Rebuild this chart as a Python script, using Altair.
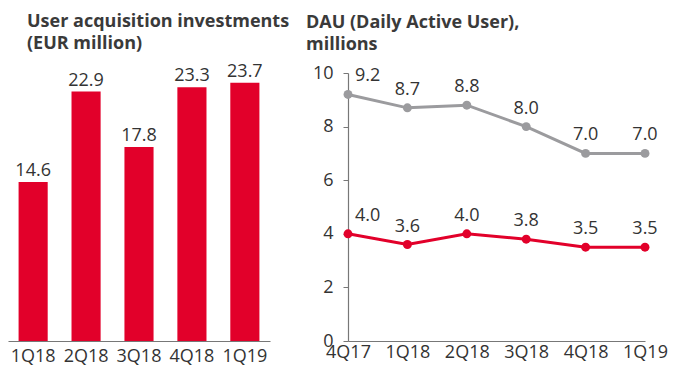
import altair as alt
import pandas as pd

# ---- data ----
bar_quarters = ["1Q18", "2Q18", "3Q18", "4Q18", "1Q19"]
ua_investments = [14.6, 22.9, 17.8, 23.3, 23.7]

dau_quarters = ["4Q17", "1Q18", "2Q18", "3Q18", "4Q18", "1Q19"]
dau_upper = [9.2, 8.7, 8.8, 8.0, 7.0, 7.0]
dau_lower = [4.0, 3.6, 4.0, 3.8, 3.5, 3.5]

RED = "#e2002a"
GRAY = "#9b9b9e"
TEXT = "#333333"
FONT = "Open Sans"

bar_df = pd.DataFrame({"quarter": bar_quarters, "value": ua_investments})
line_df = pd.concat([
    pd.DataFrame({"quarter": dau_quarters, "value": dau_upper, "series": "upper"}),
    pd.DataFrame({"quarter": dau_quarters, "value": dau_lower, "series": "lower"}),
], ignore_index=True)
line_df["label"] = line_df["value"].map(lambda v: f"{v:.1f}")
bar_df["label"] = bar_df["value"].map(lambda v: f"{v:.1f}")

PLOT_H = 268

# ---- left: bars ----
xb = alt.X("quarter:N", sort=bar_quarters,
           scale=alt.Scale(paddingInner=0.45, paddingOuter=0.2),
           axis=alt.Axis(title=None, labelAngle=0, ticks=False, domainColor="#777777",
                         domainWidth=1.2, labelPadding=6, labelFontSize=18,
                         labelColor=TEXT, labelFont=FONT))
yb = alt.Y("value:Q", scale=alt.Scale(domain=[0, 24.6], nice=False), axis=None)

bars = alt.Chart(bar_df).mark_bar(color=RED).encode(x=xb, y=yb)
bar_text = alt.Chart(bar_df).mark_text(dy=-6, baseline="alphabetic", fontSize=18,
                                      font=FONT, color=TEXT).encode(x=xb, y=yb, text="label:N")

left = alt.layer(bars, bar_text).properties(
    width=262, height=PLOT_H,
    title=alt.TitleParams(["User acquisition investments", "(EUR million)"],
                          anchor="start", frame="group", dx=19, offset=10,
                          fontSize=18, fontWeight="bold", font=FONT,
                          color="#3a3a3a", lineHeight=22))

# ---- right: lines ----
xl = alt.X("quarter:N", sort=dau_quarters,
           scale=alt.Scale(type="point", padding=0),
           axis=alt.Axis(title=None, labelAngle=0, ticks=False, domainColor="#777777",
                         domainWidth=1.2, labelPadding=2, labelFontSize=18,
                         labelColor=TEXT, labelFont=FONT))
yl = alt.Y("value:Q", scale=alt.Scale(domain=[0, 10], nice=False),
           axis=alt.Axis(title=None, values=[0, 2, 4, 6, 8, 10], grid=False,
                         tickSize=5, tickColor="#777777", domainColor="#777777",
                         domainWidth=1.2, labelPadding=10, labelFontSize=18,
                         labelColor=TEXT, labelFont=FONT))
col = alt.Color("series:N", scale=alt.Scale(domain=["upper", "lower"], range=[GRAY, RED]),
                legend=None)

base = alt.Chart(line_df)
lines = base.mark_line(strokeWidth=3).encode(x=xl, y=yl, color=col, detail="series:N")
points = base.mark_circle(size=80, opacity=1).encode(x=xl, y=yl, color=col)
labels_mid = base.transform_filter(alt.datum.quarter != "4Q17").mark_text(
    dy=-13, baseline="alphabetic", fontSize=18, font=FONT, color=TEXT
).encode(x=xl, y=yl, text="label:N")
labels_first = base.transform_filter(alt.datum.quarter == "4Q17").mark_text(
    dx=7, dy=-13, align="left", baseline="alphabetic", fontSize=18, font=FONT, color=TEXT
).encode(x=xl, y=yl, text="label:N")

right = alt.layer(lines, points, labels_mid, labels_first).properties(
    width=297, height=PLOT_H,
    title=alt.TitleParams(["DAU (Daily Active User),", "millions"],
                          anchor="start", frame="group", dx=-42, offset=10,
                          fontSize=18, fontWeight="bold", font=FONT,
                          color="#3a3a3a", lineHeight=22))

chart = alt.hconcat(left, right, spacing=78, bounds="flush").properties(
    padding={"top": 4, "left": 0, "right": 0, "bottom": 0}
).configure_view(stroke=None)

chart.save("out.html", embed_options={"renderer": "svg", "actions": False})
